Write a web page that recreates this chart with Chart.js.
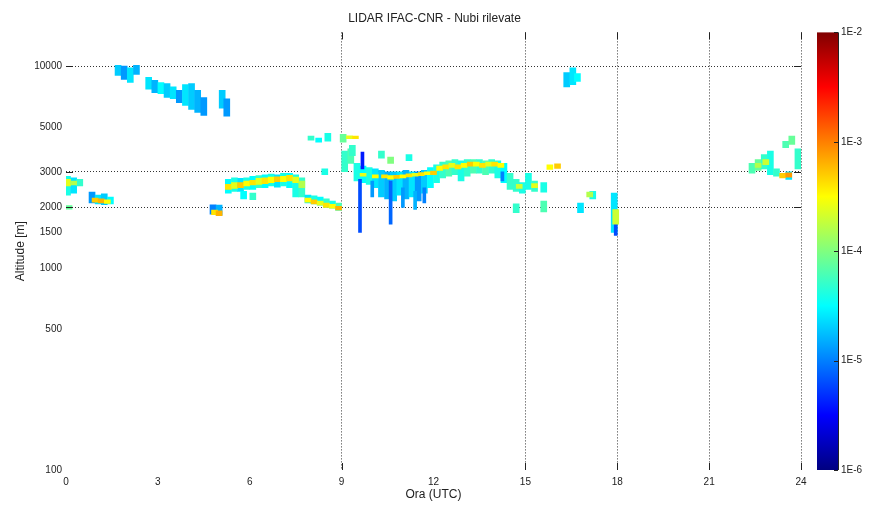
<!DOCTYPE html>
<html>
<head>
<meta charset="utf-8">
<script src="https://cdn.jsdelivr.net/npm/chart.js@4/dist/chart.umd.min.js"></script>
<style>
  html, body { margin: 0; padding: 0; background: #fff; }
  canvas { display: block; }
</style>
</head>
<body>
<canvas id="lidar" width="869" height="522"></canvas>
<script>
// ---- axes ----
const HOUR_TICKS = [0, 3, 6, 9, 12, 15, 18, 21, 24];
const ALT_TICKS = [100, 500, 1000, 1500, 2000, 3000, 5000, 10000];
const GRID_HOURS = [9, 15, 18, 21, 24];
const GRID_ALTS = [2000, 3000, 10000];
const BETA_TICKS = [1e-6, 1e-5, 1e-4, 1e-3, 1e-2];

// ---- cloud cells: [hour UTC, base m, top m, log10 backscatter] ----
const cirrusCells = [
  [1.7, 9000, 10100, -4.7], [1.9, 8600, 10000, -4.9], [2.1, 8300, 9800, -4.6], [2.3, 9100, 10100, -4.8],
  [2.7, 7700, 8800, -4.6], [2.9, 7400, 8500, -4.8], [3.1, 7300, 8300, -4.5], [3.3, 7000, 8200, -4.7],
  [3.5, 6900, 7900, -4.6], [3.7, 6600, 7600, -4.9], [3.9, 6400, 8100, -4.6], [4.1, 6100, 8200, -4.7],
  [4.3, 5900, 7600, -4.8], [4.5, 5700, 7000, -4.9], [5.1, 6200, 7600, -4.7], [5.25, 5650, 6900, -4.9],
  [16.35, 7900, 9300, -4.7], [16.55, 8100, 9800, -4.6], [16.7, 8400, 9200, -4.5]
];

const morningHaze = [
  [0.05, 2300, 2850, -4.4], [0.25, 2350, 2800, -4.6], [0.45, 2550, 2750, -4.3], [0.1, 1960, 2040, -4.1],
  [0.85, 2100, 2380, -4.9], [1.05, 2080, 2300, -4.6], [1.25, 2060, 2330, -4.7], [1.45, 2080, 2250, -4.5],
  [4.8, 1850, 2060, -5.0], [5.0, 1830, 2050, -4.8],
  [5.3, 2350, 2750, -4.5], [5.5, 2400, 2800, -4.4], [5.7, 2400, 2780, -4.6], [5.9, 2450, 2800, -4.4],
  [6.1, 2450, 2850, -4.5], [6.3, 2500, 2870, -4.3], [6.5, 2500, 2900, -4.5], [6.7, 2550, 2920, -4.4],
  [6.9, 2520, 2900, -4.6], [7.1, 2550, 2950, -4.4], [7.3, 2500, 2950, -4.5], [7.5, 2250, 2900, -4.4],
  [7.7, 2250, 2800, -4.3], [5.8, 2200, 2400, -4.5], [6.1, 2180, 2350, -4.3],
  [7.9, 2100, 2300, -4.6], [8.1, 2080, 2280, -4.4], [8.3, 2050, 2250, -4.5], [8.5, 2000, 2200, -4.3],
  [8.7, 1980, 2150, -4.4], [8.9, 1930, 2100, -4.2],
  [8.0, 4300, 4500, -4.3], [8.25, 4200, 4400, -4.5], [8.55, 4250, 4650, -4.4], [8.45, 2900, 3100, -4.4],
  [9.05, 4200, 4600, -4.1], [9.35, 3600, 4050, -4.3]
];

const morningCore = [
  [0.05, 2550, 2750, -3.6], [0.25, 2580, 2700, -3.8],
  [0.95, 2120, 2220, -3.3], [1.15, 2100, 2200, -3.2], [1.35, 2090, 2180, -3.5],
  [4.85, 1840, 1940, -3.4], [5.0, 1820, 1920, -3.2],
  [5.3, 2450, 2600, -3.4], [5.5, 2480, 2650, -3.6], [5.7, 2500, 2650, -3.3], [5.9, 2550, 2700, -3.5],
  [6.1, 2580, 2720, -3.4], [6.3, 2600, 2780, -3.6], [6.5, 2620, 2800, -3.4], [6.7, 2650, 2820, -3.5],
  [6.9, 2680, 2830, -3.3], [7.1, 2680, 2850, -3.5], [7.3, 2700, 2880, -3.4], [7.5, 2650, 2820, -3.6],
  [7.7, 2500, 2700, -3.8],
  [7.9, 2120, 2220, -3.5], [8.1, 2080, 2180, -3.3], [8.3, 2050, 2150, -3.6], [8.5, 2000, 2100, -3.4],
  [8.7, 1980, 2070, -3.5], [8.9, 1940, 2020, -3.2],
  [9.25, 4380, 4520, -3.6], [9.45, 4380, 4500, -3.4]
];

const middayHaze = [
  [9.1, 3000, 3800, -4.3], [9.3, 3300, 3900, -4.2], [9.5, 2700, 3300, -4.4], [9.7, 2650, 3200, -4.5],
  [9.9, 2600, 3150, -4.4], [10.1, 2500, 3100, -4.6], [10.3, 2250, 3050, -4.7], [10.5, 2200, 3000, -4.8],
  [10.7, 2150, 3000, -4.7], [10.9, 2300, 3000, -4.6], [11.1, 2200, 3050, -4.8], [11.3, 2250, 3000, -4.6],
  [11.5, 2150, 3000, -4.9], [11.7, 2350, 3050, -4.7], [11.9, 2500, 3150, -4.5], [12.1, 2650, 3250, -4.4],
  [12.3, 2800, 3350, -4.3], [12.5, 2850, 3400, -4.2], [12.7, 2900, 3450, -4.3], [12.9, 2700, 3400, -4.4],
  [13.1, 2850, 3450, -4.3], [13.3, 2950, 3450, -4.2], [13.5, 2950, 3450, -4.3], [13.7, 2900, 3400, -4.2],
  [13.9, 2950, 3450, -4.3], [14.1, 2800, 3400, -4.4], [14.3, 2650, 3300, -4.5], [14.5, 2450, 2950, -4.3],
  [10.3, 3500, 3800, -4.3], [10.6, 3300, 3550, -4.0], [11.2, 3400, 3650, -4.4],
  [14.7, 2400, 2750, -4.3], [14.9, 2350, 2650, -4.4], [15.1, 2450, 2950, -4.4], [15.3, 2400, 2700, -4.3],
  [15.6, 2380, 2650, -4.4], [14.7, 1880, 2080, -4.3], [15.6, 1900, 2150, -4.2], [16.8, 1880, 2100, -4.6],
  [17.2, 2200, 2400, -4.4], [17.9, 1500, 2350, -4.6]
];

const middayCore = [
  [9.7, 2850, 2950, -3.6], [10.1, 2800, 2900, -3.5], [10.4, 2800, 2900, -3.4], [10.6, 2760, 2870, -3.5],
  [10.8, 2780, 2880, -3.3], [11.0, 2800, 2900, -3.5], [11.2, 2830, 2930, -3.4], [11.4, 2850, 2950, -3.6],
  [11.6, 2870, 2970, -3.4], [11.8, 2900, 3000, -3.5], [12.0, 2900, 3020, -3.3], [12.2, 3050, 3200, -3.5],
  [12.4, 3100, 3250, -3.4], [12.6, 3150, 3300, -3.6], [12.8, 3100, 3250, -3.4], [13.0, 3150, 3300, -3.5],
  [13.2, 3200, 3350, -3.3], [13.4, 3200, 3350, -3.5], [13.6, 3150, 3300, -3.4], [13.8, 3200, 3350, -3.6],
  [14.0, 3200, 3350, -3.4], [14.2, 3150, 3300, -3.5],
  [14.8, 2480, 2600, -3.7], [15.3, 2500, 2620, -3.6], [15.8, 3080, 3250, -3.5], [16.05, 3120, 3280, -3.3],
  [17.1, 2250, 2380, -3.8], [17.95, 1650, 1950, -3.7]
];

const fallStreaks = [
  [9.6, 1500, 2750, -5.2], [9.68, 3100, 3750, -5.4], [10.0, 2250, 2700, -4.9], [10.6, 1650, 2700, -5.1],
  [11.0, 2000, 2500, -4.9], [11.4, 1950, 2400, -4.8], [11.7, 2100, 2500, -5.0], [14.25, 2700, 3000, -5.0],
  [17.95, 1450, 1700, -5.2]
];

const eveningHaze = [
  [22.4, 2950, 3300, -4.2], [22.6, 3050, 3450, -4.1], [22.8, 3100, 3650, -4.3], [23.0, 2900, 3800, -4.4],
  [23.2, 2850, 3100, -4.3], [23.5, 3950, 4250, -4.2], [23.7, 4100, 4500, -4.1], [23.9, 3100, 3900, -4.3],
  [23.6, 2750, 3000, -4.6]
];

const eveningCore = [
  [22.6, 3150, 3300, -3.8], [22.85, 3250, 3450, -3.7], [23.4, 2800, 2950, -3.3], [23.6, 2820, 2960, -3.1]
];

// ---- colour map (MATLAB jet over 1E-6 .. 1E-2) ----
const LOG_MIN = -6, LOG_MAX = -2;
function clamp01(v) { return Math.max(0, Math.min(1, v)); }
function jet(f) {
  const r = clamp01(1.5 - Math.abs(4 * f - 3));
  const g = clamp01(1.5 - Math.abs(4 * f - 2));
  const b = clamp01(1.5 - Math.abs(4 * f - 1));
  return `rgb(${Math.round(r * 255)},${Math.round(g * 255)},${Math.round(b * 255)})`;
}
function betaColor(logBeta) { return jet(clamp01((logBeta - LOG_MIN) / (LOG_MAX - LOG_MIN))); }

function toBars(cells) {
  return cells.map(([h, base, top, v]) => ({ x: h, y: [base, top], v }));
}

function cellLayer(label, cells, thickness) {
  return {
    label,
    data: toBars(cells),
    backgroundColor: ctx => betaColor(ctx.raw ? ctx.raw.v : -6),
    borderWidth: 0,
    barThickness: thickness,
    grouped: false
  };
}

const FONT = "'Liberation Sans', Arial, sans-serif";
const INK = '#222';

// inward tick marks where MATLAB drew its grid
const innerTicks = {
  id: 'innerTicks',
  afterDraw(chart) {
    const { ctx, chartArea: a, scales: { x, y } } = chart;
    ctx.save();
    ctx.strokeStyle = INK;
    ctx.lineWidth = 1;
    ctx.beginPath();
    GRID_HOURS.forEach(h => {
      const px = Math.round(x.getPixelForValue(h)) + 0.5;
      ctx.moveTo(px, a.bottom); ctx.lineTo(px, a.bottom - 7);
      ctx.moveTo(px, a.top); ctx.lineTo(px, a.top + 7);
    });
    GRID_ALTS.forEach(v => {
      const py = Math.round(y.getPixelForValue(v)) + 0.5;
      ctx.moveTo(a.left, py); ctx.lineTo(a.left + 7, py);
      ctx.moveTo(a.right, py); ctx.lineTo(a.right - 7, py);
    });
    ctx.stroke();
    ctx.restore();
  }
};

// colorbar drawn alongside the right-hand backscatter scale
const colorBar = {
  id: 'colorBar',
  afterDraw(chart) {
    const { ctx } = chart;
    const s = chart.scales.beta;
    const top = s.getPixelForValue(BETA_TICKS[BETA_TICKS.length - 1]);
    const bottom = s.getPixelForValue(BETA_TICKS[0]);
    const left = s.left + 16, right = s.left + 37;
    const grad = ctx.createLinearGradient(0, bottom, 0, top);
    [0, 0.125, 0.375, 0.625, 0.875, 1].forEach(f => grad.addColorStop(f, jet(f)));
    ctx.save();
    ctx.fillStyle = grad;
    ctx.fillRect(left, top, right - left, bottom - top);
    ctx.strokeStyle = INK;
    ctx.lineWidth = 1;
    ctx.beginPath();
    ctx.moveTo(right + 0.5, top); ctx.lineTo(right + 0.5, bottom);
    BETA_TICKS.forEach(v => {
      const py = Math.round(s.getPixelForValue(v)) + 0.5;
      ctx.moveTo(right, py); ctx.lineTo(right - 4, py);
    });
    ctx.stroke();
    ctx.restore();
  }
};

new Chart(document.getElementById('lidar'), {
  type: 'bar',
  data: {
    datasets: [
      cellLayer('core mattina', morningCore, 6),
      cellLayer('core giorno', middayCore, 6),
      cellLayer('core sera', eveningCore, 6),
      cellLayer('scie', fallStreaks, 3),
      cellLayer('bordo mattina', morningHaze, 6),
      cellLayer('bordo giorno', middayHaze, 6),
      cellLayer('bordo sera', eveningHaze, 6),
      cellLayer('cirri', cirrusCells, 6)
    ]
  },
  options: {
    responsive: false,
    animation: false,
    layout: { padding: 0 },
    plugins: {
      legend: { display: false },
      tooltip: { enabled: false },
      title: {
        display: true,
        text: 'LIDAR IFAC-CNR - Nubi rilevate',
        color: INK,
        font: { family: FONT, size: 12, weight: 'normal' },
        padding: { top: 11, bottom: 7 }
      }
    },
    scales: {
      x: {
        type: 'linear',
        min: 0, max: 24,
        offset: false,
        afterBuildTicks: axis => { axis.ticks = HOUR_TICKS.map(value => ({ value })); },
        afterFit: axis => { axis.height = 52; },
        ticks: { autoSkip: false, maxRotation: 0, padding: 6, color: INK, font: { family: FONT, size: 10 } },
        grid: {
          offset: false,
          drawTicks: false,
          color: ctx => (ctx.tick && GRID_HOURS.includes(ctx.tick.value)) ? '#333' : 'rgba(0,0,0,0)'
        },
        border: { display: false, dash: [1, 2] },
        title: { display: true, text: 'Ora (UTC)', color: INK, font: { family: FONT, size: 12 }, padding: { top: 0, bottom: 20 } }
      },
      y: {
        type: 'logarithmic',
        position: 'left',
        min: 100, max: 14700,
        afterBuildTicks: axis => { axis.ticks = ALT_TICKS.map(value => ({ value })); },
        afterFit: axis => { axis.width = 66; axis.paddingTop = 0; axis.paddingBottom = 0; },
        ticks: { autoSkip: false, padding: 4, color: INK, font: { family: FONT, size: 10 }, callback: v => String(v) },
        grid: {
          drawTicks: false,
          color: ctx => (ctx.tick && GRID_ALTS.includes(ctx.tick.value)) ? '#333' : 'rgba(0,0,0,0)'
        },
        border: { display: false, dash: [1, 2] },
        title: { display: true, text: 'Altitude [m]', color: INK, font: { family: FONT, size: 12 }, padding: { top: 13, bottom: 0 } }
      },
      beta: {
        type: 'logarithmic',
        position: 'right',
        min: 1e-6, max: 1e-2,
        afterBuildTicks: axis => { axis.ticks = BETA_TICKS.map(value => ({ value })); },
        afterFit: axis => { axis.width = 68; axis.paddingTop = 0; axis.paddingBottom = 0; },
        ticks: {
          autoSkip: false, padding: 40, color: INK, font: { family: FONT, size: 10 },
          callback: v => '1E' + Math.round(Math.log10(v))
        },
        grid: { display: false, drawTicks: false },
        border: { display: false }
      }
    }
  },
  plugins: [innerTicks, colorBar]
});
</script>
</body>
</html>
